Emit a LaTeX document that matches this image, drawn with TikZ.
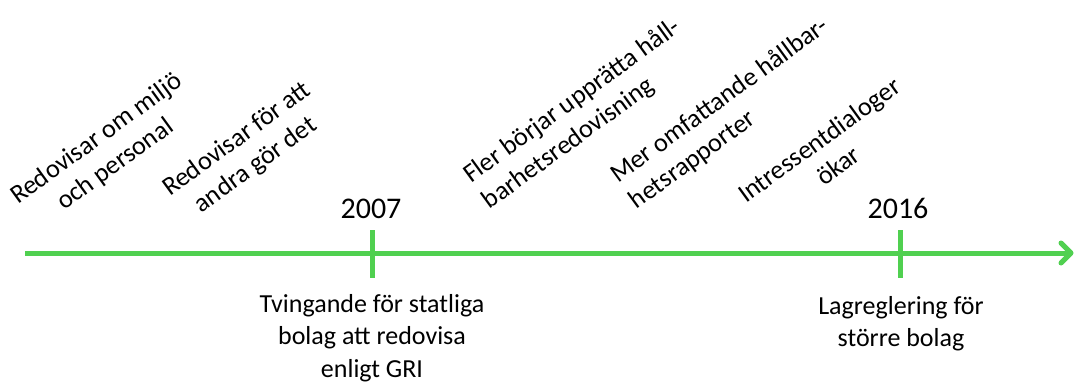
\documentclass[tikz,border=0pt]{standalone}
\usepackage{fontspec}
\setmainfont{Carlito}
\usetikzlibrary{calc}
\definecolor{tlgreen}{RGB}{80,208,80}
\newcommand{\blkc}[1]{\begin{tabular}[t]{@{}c@{}}#1\end{tabular}}
\newcommand{\blkl}[1]{\begin{tabular}[t]{@{}l@{}}#1\end{tabular}}
\begin{document}
\begin{tikzpicture}[x=1pt,y=-1pt,
  axis/.style={draw=tlgreen,line width=5pt},
  event/.style={rotate=36,anchor=base west,inner sep=0pt,font=\fontsize{26.3}{32}\selectfont},
  yearlbl/.style={font=\fontsize{30}{36}\selectfont,anchor=base,inner sep=0pt},
  note/.style={anchor=base,inner sep=0pt,font=\fontsize{26}{32.5}\selectfont}]
\useasboundingbox (0,0) rectangle (1074,383);
% axis
\coordinate (start) at (25,253);
\coordinate (end) at (1071,253);
\draw[axis] (start) -- (end);
\draw[axis,line join=round,line cap=round] ($(end)+(-10,-10)$) -- (end) -- ($(end)+(-10,10)$);
% ticks
\coordinate (t1top) at (372,230);
\coordinate (t1bot) at (372,278);
\coordinate (t2top) at (900,230);
\coordinate (t2bot) at (900,278);
\draw[axis] (t1top) -- (t1bot);
\draw[axis] (t2top) -- (t2bot);
% years
\node[yearlbl] (y2007) at (371,218) {2007};
\node[yearlbl] (y2016) at (898,218) {2016};
% notes below
\node[note] (n2007) at (372,312) {\blkc{Tvingande för statliga\\bolag att redovisa\\enligt GRI}};
\node[note] (n2016) at (901,314) {\blkc{Lagreglering för\\större bolag}};
% rotated events
\node[event] (e1) at (18,205) {\blkc{Redovisar om miljö\\och personal}};
\node[event] (e2) at (170,197) {\blkc{Redovisar för att\\andra gör det}};
\node[event] (e3) at (471,184) {\blkl{Fler börjar upprätta håll-\\barhetsredovisning}};
\node[event] (e4) at (618,184) {\blkl{Mer omfattande hållbar-\\hetsrapporter}};
\node[event] (e5) at (746,204) {\blkc{Intressentdialoger\\ökar}};
\end{tikzpicture}
\end{document}
